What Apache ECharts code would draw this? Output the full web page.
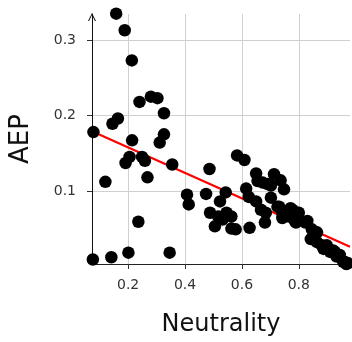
<!DOCTYPE html>
<html>
<head>
<meta charset="utf-8">
<script src="https://cdn.jsdelivr.net/npm/echarts@6/dist/echarts.min.js"></script>
<style>
html,body{margin:0;padding:0;background:#fff;}
#c{width:352px;height:342px;}
</style>
</head>
<body>
<div id="c"></div>
<script>
const xTicks = [0.2, 0.4, 0.6, 0.8];
const yTicks = [0.1, 0.2, 0.3];
const xName = 'Neutrality';
const yName = 'AEP';
const points = [
  [0.076,0.009],[0.078,0.178],[0.120,0.112],[0.141,0.012],[0.145,0.189],[0.158,0.335],
  [0.164,0.196],[0.188,0.313],[0.191,0.137],[0.201,0.018],[0.205,0.145],[0.213,0.273],
  [0.214,0.167],[0.236,0.059],[0.240,0.218],[0.249,0.145],[0.259,0.140],[0.268,0.118],
  [0.280,0.225],[0.303,0.223],[0.311,0.164],[0.326,0.175],[0.326,0.203],[0.346,0.018],
  [0.355,0.135],
  [0.407,0.095],[0.413,0.082],[0.474,0.096],[0.486,0.129],[0.488,0.071],[0.505,0.053],
  [0.517,0.066],[0.523,0.086],[0.532,0.062],[0.543,0.098],[0.546,0.071],[0.563,0.066],
  [0.563,0.050],[0.578,0.049],[0.583,0.147],[0.609,0.141],[0.615,0.103],[0.624,0.092],
  [0.627,0.051],
  [0.650,0.123],[0.655,0.113],[0.673,0.111],[0.690,0.109],[0.713,0.122],[0.736,0.114],
  [0.748,0.102],[0.702,0.107],[0.702,0.091],[0.650,0.086],[0.667,0.075],[0.684,0.071],
  [0.681,0.058],[0.725,0.079],[0.731,0.079],[0.742,0.064],[0.742,0.071],[0.748,0.073],
  [0.765,0.066],[0.771,0.077],[0.777,0.075],[0.786,0.060],[0.790,0.058],[0.794,0.071],
  [0.800,0.071],[0.823,0.058],[0.830,0.060],[0.846,0.049],[0.864,0.045],[0.842,0.036],
  [0.864,0.032],[0.881,0.028],[0.887,0.023],[0.898,0.028],[0.904,0.023],[0.910,0.019],
  [0.921,0.021],[0.927,0.019],[0.933,0.013],[0.944,0.015],[0.956,0.006],[0.961,0.006],
  [0.967,0.003],[0.973,0.004]
];
const fitLine = [[0.073,0.179],[0.98,0.026]];

const chart = echarts.init(document.getElementById('c'), null, {renderer:'canvas'});
const labelFont = {fontFamily:'DejaVu Sans', fontSize:14, color:'#333'};
chart.setOption({
  animation:false,
  grid:{left:88.7, right:2, top:14, bottom:69.3},
  xAxis:{
    type:'value', min:0.073, max:0.98,
    name:xName, nameLocation:'middle', nameGap:49,
    nameTextStyle:{fontFamily:'DejaVu Sans', fontSize:24, color:'#111'},
    axisLine:{lineStyle:{color:'#222', width:1}},
    axisTick:{show:true, inside:false, length:5, customValues:xTicks, lineStyle:{color:'#333'}},
    axisLabel:{customValues:xTicks, margin:14, formatter:v=>v.toFixed(1), ...labelFont},
    splitLine:{show:true, lineStyle:{color:'#d0d0d0', width:1}}
  },
  yAxis:{
    type:'value', min:0.003, max:0.3346,
    name:yName, nameLocation:'middle', nameGap:58, nameRotate:90,
    nameTextStyle:{fontFamily:'DejaVu Sans', fontSize:26, color:'#111'},
    axisLine:{show:true, symbol:['none','path://M0,10 L5,0 L10,10 L8.6,10 L5,2.6 L1.4,10 Z'], symbolSize:[8,8], symbolOffset:[0,-3], lineStyle:{color:'#111', width:1}},
    axisTick:{show:true, inside:false, length:5, customValues:yTicks, lineStyle:{color:'#333'}},
    axisLabel:{customValues:yTicks, margin:16, formatter:v=>v.toFixed(1), ...labelFont},
    splitLine:{show:true, lineStyle:{color:'#d0d0d0', width:1}}
  },
  series:[
    {type:'line', data:fitLine, showSymbol:false, symbol:'none', lineStyle:{color:'#ff0000', width:2.2}, z:1, silent:true},
    {type:'scatter', data:points, symbolSize:12.5, itemStyle:{color:'#000', opacity:1}, clip:false, z:2}
  ]
});
</script>
</body>
</html>
